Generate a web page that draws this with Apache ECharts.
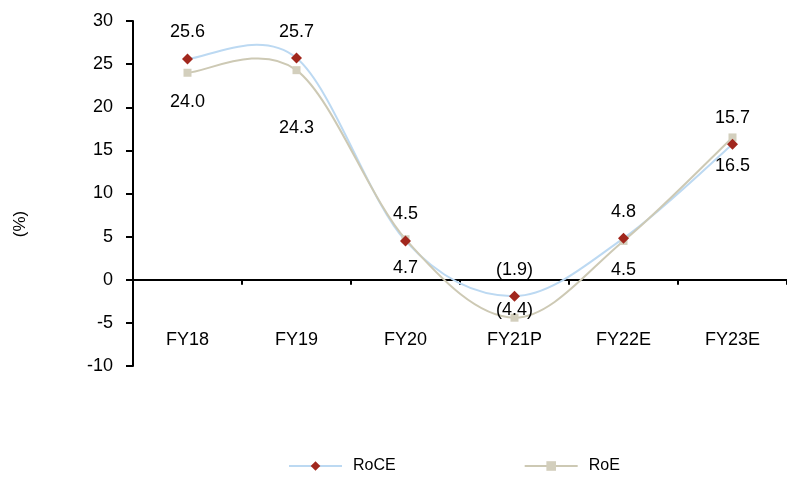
<!DOCTYPE html>
<html>
<head>
<meta charset="utf-8">
<script src="https://cdn.jsdelivr.net/npm/echarts@6/dist/echarts.min.js"></script>
<style>
  html, body { margin: 0; padding: 0; background: #fff; }
  #chart { width: 787px; height: 477px; }
</style>
</head>
<body>
<div id="chart"></div>
<script>
// Return ratios by fiscal year (%)
const categories = ['FY18', 'FY19', 'FY20', 'FY21P', 'FY22E', 'FY23E'];
const roce = [25.6, 25.7, 4.5, -1.9, 4.8, 15.7];
const roe = [24.0, 24.3, 4.7, -4.4, 4.5, 16.5];
const yTicks = { min: -10, max: 30, interval: 5 };

const FONT = '"Liberation Sans", Arial, sans-serif';
const ROCE_LINE = '#bcd9f2';
const ROCE_MARK = '#a1271d';
const ROE_LINE = '#cdc9b4';
const ROE_MARK = '#d3cfbd';

// Negative values are shown in brackets, accounting style
function fmt(v) {
  return v < 0 ? '(' + Math.abs(v).toFixed(1) + ')' : v.toFixed(1);
}

// A couple of RoE labels sit away from the default spot to keep clear of the lines
const roeLabelShift = { 1: [0, 29], 3: [0, -37] };

// Smoothed connector (Catmull-Rom style Bezier, like spreadsheet "smoothed line"),
// one segment per data index, positioned through the grid's coordinate system.
function curveSeries(name, values, color, z) {
  const n = values.length;
  return {
    name: name,
    type: 'custom',
    silent: true,
    z: z,
    data: values.map((v, i) => [i, v]),
    renderItem: function (params, api) {
      const i = params.dataIndex;
      if (i >= n - 1) return null;
      const p = k => api.coord([k, values[k]]);
      const p0 = p(Math.max(i - 1, 0));
      const p1 = p(i);
      const p2 = p(i + 1);
      const p3 = p(Math.min(i + 2, n - 1));
      return {
        type: 'bezierCurve',
        shape: {
          x1: p1[0], y1: p1[1],
          x2: p2[0], y2: p2[1],
          cpx1: p1[0] + (p2[0] - p0[0]) / 6,
          cpy1: p1[1] + (p2[1] - p0[1]) / 6,
          cpx2: p2[0] - (p3[0] - p1[0]) / 6,
          cpy2: p2[1] - (p3[1] - p1[1]) / 6
        },
        style: { stroke: color, lineWidth: 2, fill: null }
      };
    }
  };
}

const chart = echarts.init(document.getElementById('chart'), null, { renderer: 'canvas' });

chart.setOption({
  animation: false,
  backgroundColor: '#ffffff',
  textStyle: { fontFamily: FONT, color: '#000' },
  grid: { left: 133, top: 21, width: 660, height: 345 },
  legend: {
    left: 283,
    top: 453,
    itemWidth: 53,
    itemHeight: 12,
    itemGap: 128,
    lineStyle: { opacity: 1, width: 2 },
    textStyle: { fontFamily: FONT, fontSize: 16, color: '#000', padding: [0, 0, 0, 6] },
    data: ['RoCE', 'RoE']
  },
  graphic: [{
    type: 'text',
    x: 20,
    y: 224,
    rotation: Math.PI / 2,
    style: {
      text: '(%)',
      font: '17px ' + FONT,
      fill: '#000',
      align: 'center',
      verticalAlign: 'middle'
    }
  }],
  xAxis: {
    type: 'category',
    data: categories,
    boundaryGap: true,
    axisLine: { onZero: true, lineStyle: { color: '#000', width: 2 } },
    axisTick: { show: true, length: 5, alignWithLabel: false, lineStyle: { color: '#000', width: 2 } },
    axisLabel: { margin: -35, fontSize: 18, color: '#000', fontFamily: FONT, interval: 0 },
    splitLine: { show: false }
  },
  yAxis: {
    type: 'value',
    min: yTicks.min,
    max: yTicks.max,
    interval: yTicks.interval,
    axisLine: { show: true, lineStyle: { color: '#000', width: 2 } },
    axisTick: { show: true, length: 7, lineStyle: { color: '#000', width: 2 } },
    axisLabel: { margin: 20, fontSize: 18, color: '#000', fontFamily: FONT },
    splitLine: { show: false }
  },
  series: [
    curveSeries('RoCE-curve', roce, ROCE_LINE, 1),
    curveSeries('RoE-curve', roe, ROE_LINE, 2),
    {
      name: 'RoE',
      type: 'line',
      data: roe.map((v, i) => roeLabelShift[i]
        ? { value: v, label: { offset: roeLabelShift[i] } }
        : v),
      symbol: 'rect',
      symbolSize: 8,
      z: 3,
      lineStyle: { color: ROE_LINE, width: 2, opacity: 0 },
      itemStyle: { color: ROE_MARK },
      label: {
        show: true,
        position: 'bottom',
        distance: 16,
        fontSize: 18,
        color: '#000',
        fontFamily: FONT,
        formatter: p => fmt(p.value)
      }
    },
    {
      name: 'RoCE',
      type: 'line',
      data: roce,
      symbol: 'diamond',
      symbolSize: 11,
      z: 4,
      lineStyle: { color: ROCE_LINE, width: 2, opacity: 0 },
      itemStyle: { color: ROCE_MARK },
      label: {
        show: true,
        position: 'top',
        distance: 12,
        fontSize: 18,
        color: '#000',
        fontFamily: FONT,
        formatter: p => fmt(p.value)
      }
    }
  ]
});
</script>
</body>
</html>
